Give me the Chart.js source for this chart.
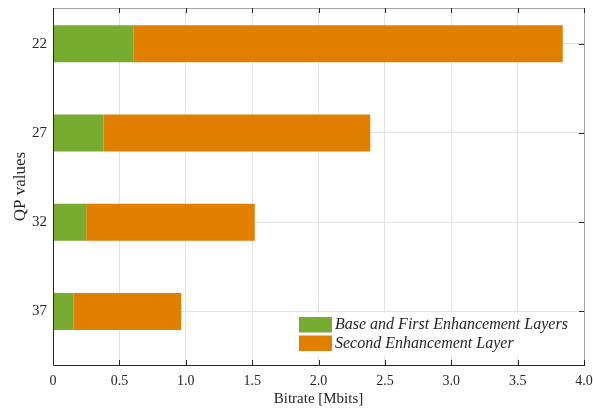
<!DOCTYPE html>
<html>
<head>
<meta charset="utf-8">
<script src="https://cdn.jsdelivr.net/npm/chart.js@4/dist/chart.umd.min.js"></script>
<style>
  html, body { margin: 0; padding: 0; background: #fff; }
  #wrap { width: 593px; height: 412px; position: relative; }
</style>
</head>
<body>
<div id="wrap"><canvas id="c"></canvas></div>
<script>
// QP values (top to bottom) and bitrate per layer in Mbits
const qpValues = ['22', '27', '32', '37'];
const baseFirstLayers = [0.605, 0.38, 0.25, 0.156];
const secondLayer = [3.235, 2.01, 1.27, 0.81];
const bitrateTicks = [0, 0.5, 1, 1.5, 2, 2.5, 3, 3.5, 4];
const seriesNames = ['Base and First Enhancement Layers', 'Second Enhancement Layer'];
const seriesColors = ['#77AC30', '#E07F00'];

const AXIS = '#262626';
const FONT = "'Liberation Serif', 'Times New Roman', serif";

// bars sit on a numeric position axis (1..n) so the limits can be set freely
const toPoints = vals => vals.map((v, i) => ({ x: v, y: i + 1 }));

const framePlugin = {
  id: 'frame',
  beforeDatasetsDraw(chart) {
    const { ctx, chartArea: a, scales: { y } } = chart;
    ctx.save();
    ctx.strokeStyle = AXIS;
    ctx.lineWidth = 1;
    qpValues.forEach((q, i) => {
      const py = Math.round(y.getPixelForValue(i + 1)) + 0.5;
      ctx.beginPath(); ctx.moveTo(a.left, py); ctx.lineTo(a.left + 5, py); ctx.stroke();
    });
    ctx.restore();
  },
  afterDatasetsDraw(chart) {
    const { ctx, chartArea: a, scales: { x, y } } = chart;
    ctx.save();
    ctx.lineWidth = 1;
    // box: top and right in gray
    ctx.strokeStyle = '#a6a6a6';
    ctx.beginPath();
    ctx.moveTo(a.left, a.top + 0.5); ctx.lineTo(a.right + 0.5, a.top + 0.5);
    ctx.lineTo(a.right + 0.5, a.bottom);
    ctx.stroke();
    // axes lines
    ctx.strokeStyle = AXIS;
    ctx.beginPath();
    ctx.moveTo(a.left + 0.5, a.top); ctx.lineTo(a.left + 0.5, a.bottom + 0.5);
    ctx.lineTo(a.right + 1, a.bottom + 0.5);
    ctx.stroke();
    // inward ticks
    ctx.beginPath();
    bitrateTicks.forEach(v => {
      const px = Math.round(x.getPixelForValue(v)) + 0.5;
      ctx.moveTo(px, a.bottom); ctx.lineTo(px, a.bottom - 5);
      ctx.moveTo(px, a.top); ctx.lineTo(px, a.top + 5);
    });
    qpValues.forEach((q, i) => {
      const py = Math.round(y.getPixelForValue(i + 1)) + 0.5;
      ctx.moveTo(a.right, py); ctx.lineTo(a.right - 5, py);
    });
    ctx.stroke();
    ctx.restore();
  },
  afterDraw(chart) {
    // legend inside the plot, lower right
    const { ctx } = chart;
    ctx.save();
    ctx.fillStyle = '#fff';
    ctx.fillRect(295, 313, 280, 43);
    ctx.font = 'italic 16px ' + FONT;
    ctx.textBaseline = 'middle';
    ctx.textAlign = 'left';
    chart.data.datasets.forEach((ds, i) => {
      const top = 317 + i * 18.5;
      ctx.fillStyle = ds.backgroundColor;
      ctx.fillRect(299, top, 33, 15.5);
      ctx.fillStyle = AXIS;
      ctx.fillText(ds.label, 335, top + 8);
    });
    ctx.restore();
  }
};

new Chart(document.getElementById('c'), {
  type: 'bar',
  data: {
    datasets: [
      { label: seriesNames[0], data: toPoints(baseFirstLayers), backgroundColor: seriesColors[0] },
      { label: seriesNames[1], data: toPoints(secondLayer), backgroundColor: seriesColors[1] }
    ]
  },
  options: {
    indexAxis: 'y',
    responsive: true,
    maintainAspectRatio: false,
    animation: false,
    devicePixelRatio: 1,
    layout: { padding: { left: 0, top: 8, right: 9, bottom: 0 } },
    datasets: { bar: { categoryPercentage: 1, barPercentage: 0.415, borderWidth: 0 } },
    plugins: { legend: { display: false }, tooltip: { enabled: false } },
    scales: {
      x: {
        type: 'linear',
        stacked: true,
        min: 0, max: 4,
        afterBuildTicks: s => { s.ticks = bitrateTicks.map(v => ({ value: v })); },
        afterFit: s => { s.height = 47; s.paddingLeft = 0; s.paddingRight = 0; },
        border: { display: false },
        grid: { color: '#e3e3e3', drawTicks: false },
        ticks: {
          padding: 8,
          color: AXIS,
          font: { family: FONT, size: 14 },
          maxRotation: 0,
          callback: v => v === 0 ? '0' : v.toFixed(1)
        },
        title: {
          display: true, text: 'Bitrate [Mbits]', color: AXIS,
          font: { family: FONT, size: 15 }, padding: { top: 0, bottom: 4 }
        }
      },
      y: {
        type: 'linear',
        stacked: true,
        reverse: true,
        offset: false,
        min: 0.6, max: 4.6,
        afterBuildTicks: s => { s.ticks = qpValues.map((q, i) => ({ value: i + 1 })); },
        afterFit: s => { s.width = 53; s.paddingTop = 0; s.paddingBottom = 0; },
        border: { display: false },
        grid: { color: '#e3e3e3', drawTicks: false, offset: false },
        ticks: {
          padding: 6,
          color: AXIS,
          font: { family: FONT, size: 15 },
          callback: v => qpValues[v - 1]
        },
        title: {
          display: true, text: 'QP values', color: AXIS,
          font: { family: FONT, size: 17 }, padding: { top: 10, bottom: 0 }
        }
      }
    }
  },
  plugins: [framePlugin]
});
</script>
</body>
</html>
